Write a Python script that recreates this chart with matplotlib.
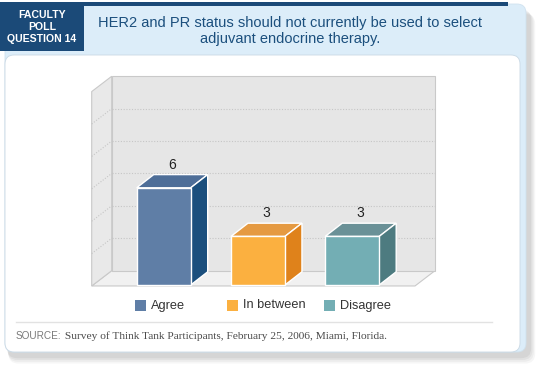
import matplotlib
matplotlib.use("Agg")
import matplotlib.pyplot as plt
from matplotlib.patches import Polygon, Rectangle, FancyBboxPatch

# ---- data ----
categories = ["Agree", "In between", "Disagree"]
values = [6, 3, 3]
front_colors = ["#5f7ea6", "#fbb040", "#73aeb4"]
top_colors = ["#4e6e98", "#e59a42", "#6a9197"]
side_colors = ["#1b4f7d", "#df821b", "#4d7b80"]
grid_values = [2, 4, 6, 8, 10]
y_max = 12
title_lines = ["HER2 and PR status should not currently be used to select",
               "adjuvant endocrine therapy."]
badge_text = "FACULTY\nPOLL\nQUESTION 14"
source_label = "SOURCE:"
source_text = "Survey of Think Tank Participants, February 25, 2006, Miami, Florida."

W, H = 540, 367
fig = plt.figure(figsize=(W / 100, H / 100), dpi=100)

# ---------- decoration axes in pixel coordinates ----------
deco = fig.add_axes([0, 0, 1, 1])
deco.set_xlim(0, W)
deco.set_ylim(H, 0)
deco.axis("off")

# shadow
for i, a in enumerate([0.035, 0.04, 0.045, 0.05]):
    off = 8 - i * 1.5
    deco.add_patch(FancyBboxPatch((6 + off * 0.3, 6 + off), 522 + off * 0.6, 348 + off * 0.2,
                                  boxstyle="round,pad=0,rounding_size=10",
                                  fc="#000000", ec="none", alpha=a, zorder=0))
# light blue panel
deco.add_patch(FancyBboxPatch((5, 4), 521, 348, boxstyle="round,pad=0,rounding_size=9",
                              fc="#dcedf9", ec="#d0e2ef", lw=0.6, zorder=1))
# white content panel
deco.add_patch(FancyBboxPatch((5, 55), 515, 297, boxstyle="round,pad=0,rounding_size=9",
                              fc="white", ec="#c9d8e4", lw=0.6, zorder=2))
# dark blue top bar and badge
deco.add_patch(Rectangle((0, 2), 508, 4, fc="#1b4a78", ec="none", zorder=3))
deco.add_patch(Rectangle((0, 2), 84, 48.5, fc="#1b4a78", ec="none", zorder=3))
deco.text(42, 27, badge_text, ha="center", va="center", color="white",
          fontsize=7.6, family="Liberation Sans", fontweight="bold",
          linespacing=1.2, zorder=4)
deco.text(290, 22.5, title_lines[0], ha="center", va="center", color="#1b4f7d",
          fontsize=10.5, family="Liberation Sans", zorder=4)
deco.text(290, 39, title_lines[1], ha="center", va="center", color="#1b4f7d",
          fontsize=10.5, family="Liberation Sans", zorder=4)

# separator + source
deco.plot([16, 492], [322, 322], color="#e2e2e2", lw=1, zorder=3)
t1 = deco.text(16, 336, source_label, ha="left", va="center", color="#7a7a7a",
               fontsize=7.2, family="Liberation Sans", zorder=4)
deco.annotate(" " + source_text, xy=(1, 0.5), xycoords=t1, ha="left", va="center",
              color="#4a4a4a", fontsize=8.2, family="Liberation Serif", zorder=4)

# legend
leg_sq_x = [135, 226.7, 324]
for xq, c, lab in zip(leg_sq_x, front_colors, categories):
    deco.add_patch(Rectangle((xq, 300), 11, 10.5, fc=c, ec="none", zorder=4))
    deco.text(xq + 16, 305.5, lab, ha="left", va="center", color="#333333",
              fontsize=9.2, family="Liberation Sans", zorder=4)

# ---------- chart axes (data coordinates) ----------
ax = fig.add_axes([0, 0, 1, 1])
ax.patch.set_alpha(0)
px0, spacing = 163.7, 94.25        # pixel of category 0, pixels per category
py0, ppu = 285.0, 16.2             # pixel of value 0, pixels per unit
ax.set_xlim(-px0 / spacing, (W - px0) / spacing)
ax.set_ylim((py0 - H) / ppu, py0 / ppu)
ax.axis("off")

wdx, wdy = 20 / spacing, 15.3 / ppu      # wall depth
bdx, bdy = 17 / spacing, 13.2 / ppu      # bar depth
fl = -0.06
xl, xr = (91.7 - px0) / spacing, (415 - px0) / spacing
edge = "#c9c9c9"

# floor
ax.add_patch(Polygon([(xl, fl), (xr, fl), (xr + wdx, fl + wdy), (xl + wdx, fl + wdy)],
                     closed=True, fc="#f1f1f1", ec=edge, lw=0.8, zorder=1))
# back wall
ax.add_patch(Polygon([(xl + wdx, fl + wdy), (xr + wdx, fl + wdy),
                      (xr + wdx, y_max + fl + wdy), (xl + wdx, y_max + fl + wdy)],
                     closed=True, fc="#e6e6e6", ec=edge, lw=0.8, zorder=1))
# left wall
ax.add_patch(Polygon([(xl, fl), (xl + wdx, fl + wdy), (xl + wdx, y_max + fl + wdy), (xl, y_max + fl)],
                     closed=True, fc="#e9e9e9", ec=edge, lw=0.8, zorder=1))
# gridlines
for g in grid_values:
    ax.plot([xl + wdx, xr + wdx], [g + fl + wdy, g + fl + wdy], color="#c6c6c6",
            lw=0.8, ls=(0, (1, 1.5)), zorder=2)
    ax.plot([xl, xl + wdx], [g + fl, g + fl + wdy], color="#c6c6c6",
            lw=0.8, ls=(0, (1, 1.5)), zorder=2)

# bars
bw = 54 / spacing
xs = list(range(len(values)))
ax.bar(xs, values, width=bw, color=front_colors, edgecolor="white", linewidth=1.0, zorder=5)
for x, v, tc, sc in zip(xs, values, top_colors, side_colors):
    l, r = x - bw / 2, x + bw / 2
    ax.add_patch(Polygon([(l, v), (r, v), (r + bdx, v + bdy), (l + bdx, v + bdy)],
                         closed=True, fc=tc, ec="white", lw=1.0, zorder=4))
    ax.add_patch(Polygon([(r, 0), (r + bdx, bdy), (r + bdx, v + bdy), (r, v)],
                         closed=True, fc=sc, ec="white", lw=1.0, zorder=4))
    ax.text(x + bdx / 2, v + bdy + 0.62, f"{v}", ha="center", va="center",
            fontsize=10, family="Liberation Sans", color="#222222", zorder=6)

fig.savefig("out.png", dpi=100)
